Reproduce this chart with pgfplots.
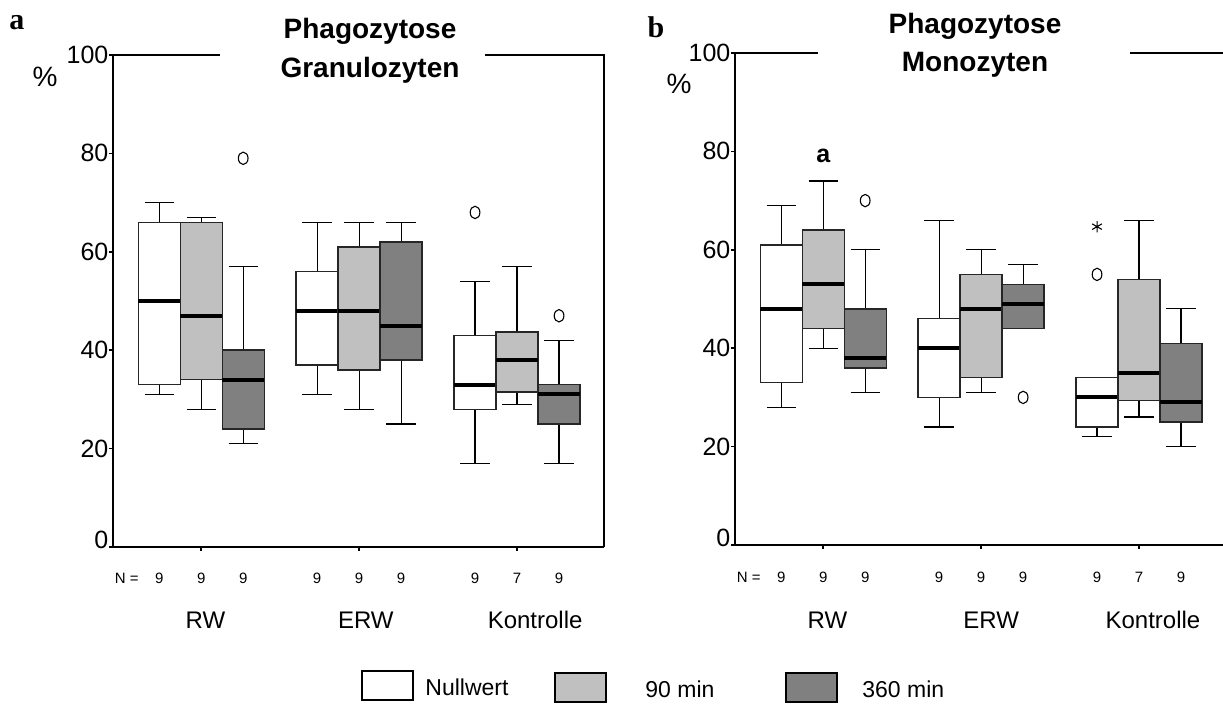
\documentclass[border=0pt]{standalone}
\usepackage{pgfplots}
\pgfplotsset{compat=1.18}
\usepgfplotslibrary{statistics}
\usepackage{fontspec}
\setmainfont{Liberation Sans}
\newfontfamily\panelfont{Liberation Serif}
\newfontfamily\labelfont{Liberation Sans}

\definecolor{lightbox}{RGB}{192,192,192}
\definecolor{darkbox}{RGB}{128,128,128}

\newcommand{\fs}[1]{\fontsize{#1}{#1}\selectfont}

\tikzset{
  nlab/.style={font=\fs{7.5}},
  glab/.style={font=\fs{12}},
}

\pgfplotsset{
  panel/.style={
    scale only axis, width=245.5pt, height=246pt,
    xmin=0, xmax=11.69, ymin=0, ymax=100,
    axis x line*=bottom, axis y line*=left,
    axis line style={black, line width=0.8pt},
    ytick={0,20,40,60,80,100},
    yticklabels={\raisebox{7pt}{0},20,40,60,80,100},
    yticklabel style={font=\fs{12.5}, inner sep=0pt, xshift=-0.3pt},
    xtick={2.1,5.86,9.62}, xticklabels={},
    tick align=outside, major tick length=1.8pt,
    tick style={black, line width=0.8pt},
    clip=false,
  },
  bpstyle/.style={
    black, line width=0.6pt, solid,
    boxplot/draw direction=y,
    boxplot/box extend=1,
    boxplot/whisker extend=0.7,
    boxplot/every median/.style={line width=2pt, black},
    mark=o, mark size=3.1pt, mark options={xscale=0.78, line width=0.55pt, solid},
  },
  wbox/.style={bpstyle, boxplot/every box/.style={fill=white, draw=black!85, line width=0.7pt}},
  gbox/.style={bpstyle, boxplot/every box/.style={fill=lightbox, draw=black!85, line width=0.7pt}},
  dbox/.style={bpstyle, boxplot/every box/.style={fill=darkbox, draw=black!85, line width=0.7pt}},
}

\begin{document}
\begin{tikzpicture}
\path[use as bounding box] (0,0) rectangle (611.5pt,-352pt);

% ---------------- Panel a: Granulozyten ----------------
\begin{axis}[panel, at={(56.5pt,-273.5pt)}, anchor=south west]
  % RW
  \addplot[wbox, boxplot prepared={draw position=1.1, lower whisker=31, lower quartile=33, median=50, upper quartile=66, upper whisker=70}] coordinates {};
  \addplot[gbox, boxplot prepared={draw position=2.1, lower whisker=28, lower quartile=34, median=47, upper quartile=66, upper whisker=67}] coordinates {};
  \addplot[dbox, boxplot prepared={draw position=3.1, lower whisker=21, lower quartile=24, median=34, upper quartile=40, upper whisker=57}] table[row sep=\\, y index=0] {data\\ 79\\};
  % ERW
  \addplot[wbox, boxplot prepared={draw position=4.86, lower whisker=31, lower quartile=37, median=48, upper quartile=56, upper whisker=66}] coordinates {};
  \addplot[gbox, boxplot prepared={draw position=5.86, lower whisker=28, lower quartile=36, median=48, upper quartile=61, upper whisker=66}] coordinates {};
  \addplot[dbox, boxplot prepared={draw position=6.86, lower whisker=25, lower quartile=38, median=45, upper quartile=62, upper whisker=66}] coordinates {};
  % Kontrolle
  \addplot[wbox, boxplot prepared={draw position=8.62, lower whisker=17, lower quartile=28, median=33, upper quartile=43, upper whisker=54}] table[row sep=\\, y index=0] {data\\ 68\\};
  \addplot[gbox, boxplot prepared={draw position=9.62, lower whisker=29, lower quartile=31.5, median=38, upper quartile=43.7, upper whisker=57}] coordinates {};
  \addplot[dbox, boxplot prepared={draw position=10.62, lower whisker=17, lower quartile=25, median=31, upper quartile=33, upper whisker=42}] table[row sep=\\, y index=0] {data\\ 47\\};

  % frame: top line with a gap for the title, right border
  \draw[black, line width=0.8pt] (axis cs:0,100) -- (axis cs:2.55,100);
  \draw[black, line width=0.8pt] (axis cs:8.86,100) -- (axis cs:11.69,100) -- (axis cs:11.69,0);

  % case numbers and group names
  \node[nlab] at (axis cs:0.33,-6.3) {N =};
  \node[nlab] at (axis cs:1.1,-6.3) {9};
  \node[nlab] at (axis cs:2.1,-6.3) {9};
  \node[nlab] at (axis cs:3.1,-6.3) {9};
  \node[nlab] at (axis cs:4.86,-6.3) {9};
  \node[nlab] at (axis cs:5.86,-6.3) {9};
  \node[nlab] at (axis cs:6.86,-6.3) {9};
  \node[nlab] at (axis cs:8.62,-6.3) {9};
  \node[nlab] at (axis cs:9.62,-6.3) {7};
  \node[nlab] at (axis cs:10.62,-6.3) {9};
  \node[glab] at (axis cs:2.2,-14.9) {RW};
  \node[glab] at (axis cs:6.02,-14.9) {ERW};
  \node[glab] at (axis cs:10.05,-14.9) {Kontrolle};
\end{axis}

% ---------------- Panel b: Monozyten ----------------
\begin{axis}[panel, at={(367.5pt,-272.5pt)}, anchor=south west]
  % RW
  \addplot[wbox, boxplot prepared={draw position=1.1, lower whisker=28, lower quartile=33, median=48, upper quartile=61, upper whisker=69}] coordinates {};
  \addplot[gbox, boxplot prepared={draw position=2.1, lower whisker=40, lower quartile=44, median=53, upper quartile=64, upper whisker=74}] coordinates {};
  \addplot[dbox, boxplot prepared={draw position=3.1, lower whisker=31, lower quartile=36, median=38, upper quartile=48, upper whisker=60}] table[row sep=\\, y index=0] {data\\ 70\\};
  % ERW
  \addplot[wbox, boxplot prepared={draw position=4.86, lower whisker=24, lower quartile=30, median=40, upper quartile=46, upper whisker=66}] coordinates {};
  \addplot[gbox, boxplot prepared={draw position=5.86, lower whisker=31, lower quartile=34, median=48, upper quartile=55, upper whisker=60}] coordinates {};
  \addplot[dbox, boxplot prepared={draw position=6.86, lower whisker=44, lower quartile=44, median=49, upper quartile=53, upper whisker=57}] table[row sep=\\, y index=0] {data\\ 30\\};
  % Kontrolle
  \addplot[wbox, boxplot prepared={draw position=8.62, lower whisker=22, lower quartile=24, median=30, upper quartile=34, upper whisker=34}] table[row sep=\\, y index=0] {data\\ 55\\};
  \addplot[gbox, boxplot prepared={draw position=9.62, lower whisker=26, lower quartile=29.4, median=35, upper quartile=54, upper whisker=66}] coordinates {};
  \addplot[dbox, boxplot prepared={draw position=10.62, lower whisker=20, lower quartile=25, median=29, upper quartile=41, upper whisker=48}] coordinates {};
  % extreme value
  \addplot[only marks, mark=asterisk, mark size=2.8pt, mark options={line width=0.55pt, black}] coordinates {(8.62,64.7)};

  % significance letter
  \node[font=\labelfont\bfseries\fs{12.5}] at (axis cs:2.1,79) {a};

  % frame: top line with a gap for the title
  \draw[black, line width=0.8pt] (axis cs:0,100) -- (axis cs:1.98,100);
  \draw[black, line width=0.8pt] (axis cs:9.4,100) -- (axis cs:11.69,100);

  % case numbers and group names
  \node[nlab] at (axis cs:0.33,-6.6) {N =};
  \node[nlab] at (axis cs:1.1,-6.6) {9};
  \node[nlab] at (axis cs:2.1,-6.6) {9};
  \node[nlab] at (axis cs:3.1,-6.6) {9};
  \node[nlab] at (axis cs:4.86,-6.6) {9};
  \node[nlab] at (axis cs:5.86,-6.6) {9};
  \node[nlab] at (axis cs:6.86,-6.6) {9};
  \node[nlab] at (axis cs:8.62,-6.6) {9};
  \node[nlab] at (axis cs:9.62,-6.6) {7};
  \node[nlab] at (axis cs:10.62,-6.6) {9};
  \node[glab] at (axis cs:2.2,-15.2) {RW};
  \node[glab] at (axis cs:6.1,-15.2) {ERW};
  \node[glab] at (axis cs:9.95,-15.2) {Kontrolle};
\end{axis}

% ---------------- titles, panel letters, legend ----------------
\begin{scope}[x=0.5pt, y=-0.5pt]
  \node[font=\panelfont\bfseries\fs{15}] at (17,23) {a};
  \node[font=\panelfont\bfseries\fs{15}] at (656,27) {b};
  \node[font=\fs{14}] at (45,77) {\%};
  \node[font=\fs{14}] at (679,84) {\%};

  \node[font=\bfseries\fs{14}] at (370,31) {Phagozytose};
  \node[font=\bfseries\fs{14}] at (370,70) {Granulozyten};
  \node[font=\bfseries\fs{14}] at (975,26) {Phagozytose};
  \node[font=\bfseries\fs{14}] at (975,65) {Monozyten};

  \draw[black, line width=0.9pt, fill=white] (362,671) rectangle (413,700);
  \node[font=\fs{11.5}, anchor=west, inner sep=0pt] at (425,687) {Nullwert};
  \draw[black, line width=0.9pt, fill=lightbox] (555,673) rectangle (606,702);
  \node[font=\fs{11.5}, anchor=west, inner sep=0pt] at (645,689) {90 min};
  \draw[black, line width=0.9pt, fill=darkbox] (786,673) rectangle (837,702);
  \node[font=\fs{11.5}, anchor=west, inner sep=0pt] at (862,689) {360 min};
\end{scope}
\end{tikzpicture}
\end{document}
